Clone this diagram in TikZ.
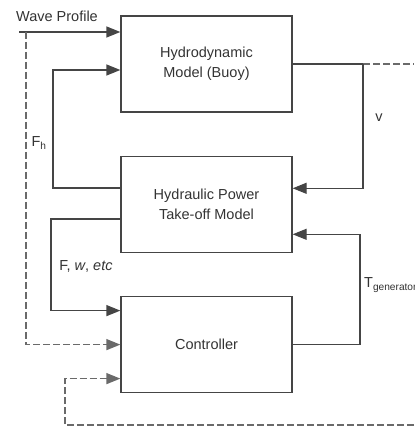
\documentclass[tikz,border=0pt]{standalone}
\usepackage{fontspec}
\setmainfont{Liberation Sans}
\usetikzlibrary{arrows.meta, positioning, calc}
\definecolor{linegray}{HTML}{454545}
\definecolor{dashgray}{HTML}{6A6A6A}
\definecolor{textgray}{HTML}{333333}

\tikzset{
    block/.style={draw=linegray, line width=1.3pt, minimum width=171pt, minimum height=96pt, align=center, text=textgray},
    flow/.style={draw=linegray, line width=1.3pt},
    dashflow/.style={draw=dashgray, line width=1.3pt, dash pattern=on 7pt off 3pt},
    lbl/.style={text=textgray, inner sep=0pt}
}

\begin{document}
\begin{tikzpicture}[x=1pt, y=-1pt, font=\fontsize{14.5}{20}\selectfont, >={Triangle[length=14pt, width=11pt]}]
    \useasboundingbox (0,0) rectangle (414,427);

    \node[block] (hydro) at (206.5,64) {Hydrodynamic\\Model (Buoy)};
    \node[block] (pto) [below=43pt of hydro] {Hydraulic Power\\Take-off Model};
    \node[block] (ctrl) [below=43pt of pto] {Controller};

    % bend points
    \coordinate (wave) at (19,32);
    \coordinate (wavetap) at (26,32);
    \coordinate (fh) at (53,188);
    \coordinate (fw) at (51,219);
    \coordinate (vtap) at (363,64);
    \coordinate (vright) at (414,64);
    \coordinate (tgen) at (360,300);
    \coordinate (loopright) at (414,425);
    \coordinate (loopbend) at (65,425);

    % wave input
    \node[lbl] (wavelabel) at (57,16) {Wave Profile};
    \draw[flow, ->] (wave) -- (wave -| hydro.west);
    \draw[dashflow, ->] (wavetap) |- (ctrl.west);

    % force feedback
    \draw[flow, ->] (pto.west |- fh) -- (fh) |- ($(hydro.west)+(0,6)$);
    \node[lbl] (fhlabel) at (39,143) {F\textsubscript{h}};

    % velocity
    \draw[flow] (hydro.east) -- (vtap);
    \draw[dashflow] (vtap) -- (vright);
    \draw[flow, ->] (vtap) |- ($(pto.east)+(0,-16)$);
    \node[lbl] (vlabel) at (379,118) {v};

    % controller input
    \draw[flow, ->] (pto.west |- fw) -- (fw) |- ($(ctrl.west)+(0,-34)$);
    \node[lbl] (fwlabel) at (86,266) {F, \textit{w}, \textit{etc}};

    % generator torque
    \draw[flow, ->] (ctrl.east) -| (tgen) |- ($(pto.east)+(0,30)$);
    \node[lbl, anchor=west] (tlabel) at (364,285) {T\textsubscript{generator}};

    % outer loop
    \draw[dashflow, ->] (loopright) -- (loopbend) |- ($(ctrl.west)+(0,34)$);
\end{tikzpicture}
\end{document}
